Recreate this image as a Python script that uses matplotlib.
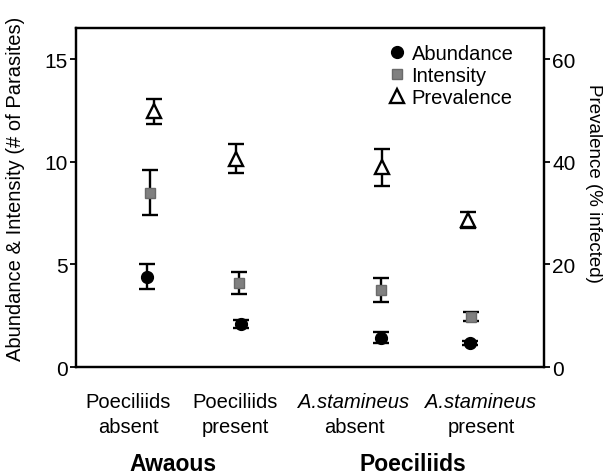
import matplotlib
matplotlib.use("Agg")
import matplotlib.pyplot as plt
from matplotlib.lines import Line2D

plt.rcParams['font.family'] = ['Liberation Sans', 'DejaVu Sans']

categories = ["Poeciliids\nabsent", "Poeciliids\npresent", "A.stamineus\nabsent", "A.stamineus\npresent"]
italic_cat = [False, False, True, True]
groups = ["Awaous", "Poeciliids"]

abundance = [4.4, 2.1, 1.42, 1.15]
abundance_err = [0.6, 0.2, 0.27, 0.1]
intensity = [8.5, 4.1, 3.75, 2.44]
intensity_err = [1.1, 0.52, 0.57, 0.22]
prevalence = [49.8, 40.6, 38.9, 28.7]
prevalence_err = [2.5, 2.8, 3.6, 1.6]

pos = [1.0, 2.0, 3.64, 4.64]
off_a = [-0.03, 0.03, -0.01, 0.0]
off_i = [0.0, 0.01, -0.01, 0.01]
off_p = [0.05, -0.02, 0.0, -0.02]

fig = plt.figure(figsize=(6.08, 4.77), dpi=100)
ax = fig.add_axes([0.125, 0.2285, 0.77, 0.71])
ax2 = ax.twinx()

ebkw = dict(ecolor='black', elinewidth=1.7, capsize=6, capthick=1.7, linestyle='none')
ax.errorbar([p + o for p, o in zip(pos, off_a)], abundance, yerr=abundance_err,
            marker='o', ms=8.5, mfc='black', mec='black', zorder=3, **ebkw)
ax.errorbar([p + o for p, o in zip(pos, off_i)], intensity, yerr=intensity_err,
            marker='s', ms=7.5, mfc='#808080', mec='#6a6a6a', zorder=3, **ebkw)
ax2.errorbar([p + o for p, o in zip(pos, off_p)], prevalence, yerr=prevalence_err,
             marker='^', ms=9.5, mfc='white', mec='black', mew=1.7, zorder=3, **ebkw)

ax.set_xlim(0.16, 5.48)
ax.set_ylim(0, 16.5)
ax2.set_ylim(0, 66)
ax.set_yticks([0, 5, 10, 15])
ax2.set_yticks([0, 20, 40, 60])
ax.set_xticks([])
for a in (ax, ax2):
    for s in a.spines.values():
        s.set_linewidth(1.6)
ax.tick_params(axis='y', labelsize=15, length=4, width=1.3, pad=2)
ax2.tick_params(axis='y', labelsize=15, length=4, width=1.3, pad=2)

ax.set_ylabel("Abundance & Intensity (# of Parasites)", fontsize=14.5)
ax.yaxis.set_label_coords(-0.109, 0.53)
ax2.set_ylabel("Prevalence (% infected)", fontsize=13.5, rotation=270, va='center')
ax2.yaxis.set_label_coords(1.105, 0.545)

label_x = [128, 235, 354, 481]
for lx, c, it in zip(label_x, categories, italic_cat):
    top, bot = c.split("\n")
    fig.text(lx / 608, 1 - 408 / 477, top, ha='center', va='baseline', fontsize=14.5,
             style='italic' if it else 'normal')
    fig.text(lx / 608, 1 - 433 / 477, bot, ha='center', va='baseline', fontsize=14.5)
for gx, g in zip([173, 413], groups):
    fig.text(gx / 608, 1 - 471 / 477, g, ha='center', va='baseline', fontsize=16.5, fontweight='bold')

handles = [
    Line2D([], [], marker='o', ls='none', ms=8.5, mfc='black', mec='black'),
    Line2D([], [], marker='s', ls='none', ms=7.5, mfc='#808080', mec='#6a6a6a'),
    Line2D([], [], marker='^', ls='none', ms=9.5, mfc='white', mec='black', mew=1.7),
]
ax2.legend(handles, ["Abundance", "Intensity", "Prevalence"], loc='upper right',
           bbox_to_anchor=(0.96, 0.99), frameon=False, fontsize=14.5,
           handletextpad=0.2, labelspacing=0.15, handlelength=1.0, borderpad=0.1)

fig.savefig("out.png", dpi=100)
